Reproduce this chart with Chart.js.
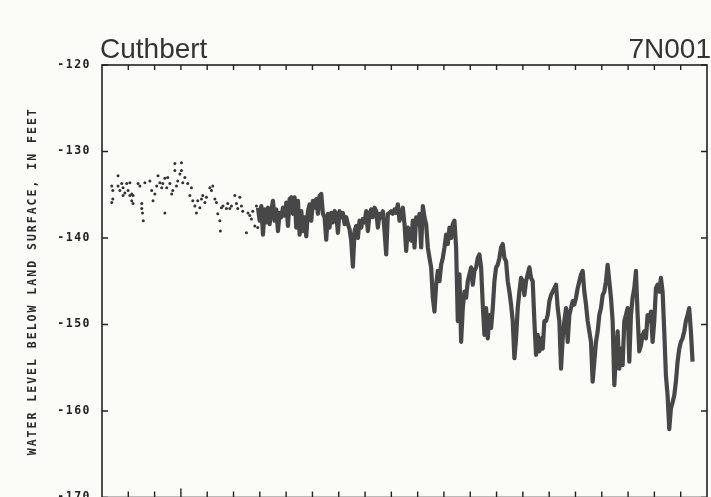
<!DOCTYPE html>
<html>
<head>
<meta charset="utf-8">
<script src="https://cdn.jsdelivr.net/npm/chart.js@4.4.0/dist/chart.umd.min.js"></script>
<style>
  html, body { margin: 0; padding: 0; background: #fbfbf8; overflow: hidden; }
  #wrap { width: 711px; height: 510px; }
</style>
</head>
<body>
<div id="wrap"><canvas id="hydro" width="711" height="510"></canvas></div>
<script>
// WELL INFO //
var siteName = "Cuthbert";
var wellId = "7N001";
var yTitle = "WATER LEVEL BELOW LAND SURFACE, IN FEET";

// AXES //
var yearMin = 1967;
var yearMax = 1990;
var levelTicks = [-120, -130, -140, -150, -160, -170];

// EARLY PERIODIC MEASUREMENTS (dots) //
var dotYears = [1967.37,1967.41,1967.37,1967.41,1967.61,1967.61,1967.68,1967.75,1967.80,1967.87,
  1967.80,1967.94,1967.99,1968.06,1968.13,1968.18,1968.13,1968.18,1968.06,1968.37,
  1968.44,1968.51,1968.51,1968.54,1968.57,1968.63,1968.82,1968.89,1968.94,1969.01,
  1969.08,1969.13,1969.20,1969.27,1969.31,1969.39,1969.39,1969.46,1969.50,1969.58,
  1969.65,1969.69,1969.77,1969.77,1969.83,1969.88,1969.96,1970.02,1970.02,1970.07,
  1970.15,1970.26,1970.34,1970.40,1970.45,1970.53,1970.59,1970.64,1970.72,1970.78,
  1970.83,1970.91,1970.97,1971.10,1971.16,1971.21,1971.29,1971.35,1971.40,1971.48,
  1971.50,1971.54,1971.60,1971.73,1971.78,1971.86,1971.92,1972.05,1972.11,1972.16,
  1972.24,1972.30,1972.35,1972.49,1972.55,1972.62,1972.68,1972.73,1972.81,1972.87,
  1972.92];
var dotLevels = [-134.0,-134.5,-135.9,-135.5,-132.8,-134.0,-134.5,-133.7,-134.2,-134.8,
  -135.1,-133.7,-134.5,-133.6,-134.9,-135.1,-135.7,-136.0,-135.1,-133.7,
  -134.0,-136.0,-136.6,-137.1,-138.0,-133.6,-133.4,-134.5,-135.7,-134.9,
  -134.0,-132.8,-133.6,-134.2,-133.7,-133.1,-137.1,-134.2,-133.0,-133.7,
  -134.9,-134.5,-132.2,-131.4,-134.0,-133.4,-132.6,-131.3,-132.2,-133.6,
  -133.0,-133.7,-135.1,-134.2,-135.7,-136.3,-137.1,-135.7,-136.5,-135.5,
  -135.1,-135.9,-135.3,-134.2,-134.5,-134.0,-135.5,-135.9,-137.2,-138.0,
  -139.2,-136.5,-136.3,-136.6,-136.0,-136.6,-136.3,-135.1,-136.0,-136.6,
  -135.3,-136.3,-136.9,-139.4,-137.1,-137.4,-137.8,-136.9,-138.6,-136.3,
  -138.8];

// CONTINUOUS RECORDER (readings at a fixed interval) //
var recStart = 1972.93;
var recStep = 0.0633;
var recLevels = [
  -136.5,-138.0,-136.3,-139.6,-136.7,-138.2,-136.5,-138.4,-136.9,-135.7,
  -138.0,-136.7,-139.2,-137.1,-137.6,-136.5,-137.4,-135.9,-138.6,-135.5,
  -135.3,-137.2,-135.3,-138.8,-135.7,-139.6,-136.9,-139.2,-137.6,-139.8,
  -136.9,-136.1,-138.0,-135.7,-136.5,-135.5,-137.2,-135.1,-134.9,-137.2,
  -137.6,-140.2,-137.2,-138.8,-137.1,-138.2,-136.9,-137.2,-139.4,-136.9,
  -137.6,-137.1,-138.4,-137.6,-138.4,-139.0,-140.3,-143.3,-139.2,-138.6,
  -140.0,-138.0,-138.8,-137.8,-138.2,-136.9,-139.2,-137.2,-136.7,-137.6,
  -136.5,-136.9,-138.8,
  -137.2,-137.6,-136.9,-139.2,-141.9,-137.2,-137.1,-136.9,-137.2,-136.7,
  -137.1,-136.1,-138.0,-137.2,-136.5,-138.4,-141.5,-138.8,-139.2,-140.3,
  -138.0,-141.1,-137.6,-138.4,-137.2,-141.1,-136.3,-137.6,-138.4,-141.1,
  -142.3,-143.4,-146.9,-148.5,-145.4,-143.8,-145.0,-143.1,-142.3,-141.1,
  -139.6,-140.7,-138.8,-140.0,-138.4,-138.0,-141.1,-149.6,-144.2,-152.0,
  -148.1,-146.2,-146.9,-145.0,-144.2,-143.4,-145.4,-143.8,-143.4,-142.3,
  -141.9,-143.4,-147.7,-151.2,-148.1,-151.6,-148.9,-150.4,-148.1,-145.0,
  -143.4,-143.1,-142.3,-141.1,-140.7,-142.3,-142.7,-145.0,-146.2,-147.7,
  -149.6,-153.9,-151.6,-148.1,-146.2,-144.6,-145.0,-146.6,-145.0,-144.2,
  -143.4,-144.6,-145.0,-149.6,-153.5,-151.2,-153.1,-151.6,-152.8,-149.6,
  -149.6,-148.9,-147.3,-146.6,-146.2,-145.8,-145.4,-148.1,-149.6,-155.1,
  -151.6,-149.6,-148.1,-152.0,-148.9,-148.1,-147.3,-147.7,-146.9,-145.8,
  -145.0,-144.2,-143.8,-146.2,-147.7,-149.6,-150.8,-152.0,-156.6,-154.3,
  -152.0,-150.8,-148.9,-148.1,-146.6,-146.2,-145.0,-143.1,-145.0,-146.9,
  -149.6,-157.0,-153.5,-150.8,-155.1,-152.8,-154.7,-149.6,-148.9,-148.1,
  -154.3,-148.9,-146.9,-145.8,-143.8,-148.9,-153.1,-152.4,-151.2,-150.8,
  -151.6,-148.9,-149.6,-148.5,-152.0,-149.6,-145.8,-145.4,-146.2,-144.6,
  -146.2,-150.8,-155.9,-158.2,-162.1,-159.7,-159.0,-158.2,-156.6,-154.3,
  -152.8,-152.0,-151.6,-150.8,-149.6,-148.9,-148.1,-150.8,-154.3];

var dotPoints = dotYears.map(function (yr, i) { return {x: yr, y: dotLevels[i]}; });
var recPoints = recLevels.map(function (lv, i) { return {x: recStart + i * recStep, y: lv}; });

var plotFont = "'DejaVu Sans Mono', 'Liberation Mono', monospace";

// FRAME, INSIDE TICKS AND TITLES //
var framePlugin = {
  id: 'frame',
  beforeDraw: function (chart) {
    chart.ctx.letterSpacing = '1.5px';
  },
  afterDraw: function (chart) {
    var ctx = chart.ctx;
    var a = chart.chartArea;
    var xs = chart.scales.x;
    var ys = chart.scales.y;
    ctx.save();
    ctx.strokeStyle = '#222';
    ctx.lineWidth = 1.6;
    ctx.strokeRect(a.left, a.top, a.right - a.left, a.bottom - a.top);
    ctx.lineWidth = 1.4;
    ctx.beginPath();
    for (var yr = yearMin + 1; yr < yearMax; yr++) {
      var px = xs.getPixelForValue(yr);
      ctx.moveTo(px, a.top);
      ctx.lineTo(px, a.top + 5);
      ctx.moveTo(px, a.bottom);
      ctx.lineTo(px, a.bottom - (yr === 1970 ? 9 : 6));
    }
    levelTicks.forEach(function (v) {
      var py = ys.getPixelForValue(v);
      ctx.moveTo(a.left, py);
      ctx.lineTo(a.left + 6, py);
      ctx.moveTo(a.right, py);
      ctx.lineTo(a.right - 6, py);
    });
    ctx.stroke();

    // site name and well number
    ctx.letterSpacing = '0px';
    ctx.fillStyle = '#333';
    ctx.font = "28px 'Liberation Sans', Arial, sans-serif";
    ctx.textBaseline = 'alphabetic';
    ctx.textAlign = 'left';
    ctx.fillText(siteName, 100, 58);
    ctx.textAlign = 'right';
    ctx.fillText(wellId, 711, 58);

    // y axis title
    ctx.letterSpacing = '2px';
    ctx.font = "bold 11.5px " + plotFont;
    ctx.fillStyle = '#2a2a2a';
    ctx.translate(33, (a.top + a.bottom) / 2);
    ctx.rotate(-Math.PI / 2);
    ctx.textAlign = 'center';
    ctx.textBaseline = 'middle';
    ctx.fillText(yTitle, 0, 0);
    ctx.restore();
  }
};

var hydroChart = new Chart(document.getElementById("hydro"), {
  type: 'scatter',
  data: {
    datasets: [{
      label: 'Periodic',
      data: dotPoints,
      showLine: false,
      pointRadius: 1.5,
      pointBorderWidth: 0,
      pointBackgroundColor: '#333'
    }, {
      label: 'Recorder',
      data: recPoints,
      showLine: true,
      pointRadius: 0,
      borderWidth: 4.2,
      borderColor: '#474747',
      borderJoinStyle: 'round',
      tension: 0
    }]
  },
  plugins: [framePlugin],
  options: {
    responsive: false,
    animation: false,
    events: [],
    layout: { padding: { left: 0, top: 65, right: 3.5, bottom: 12.5 } },
    plugins: { legend: { display: false }, tooltip: { enabled: false }, title: { display: false } },
    scales: {
      x: {
        type: 'linear',
        display: false,
        min: yearMin,
        max: yearMax
      },
      y: {
        type: 'linear',
        min: -170,
        max: -120,
        afterFit: function (scale) { scale.width = 102; },
        afterBuildTicks: function (scale) {
          scale.ticks = levelTicks.map(function (v) { return {value: v}; });
        },
        grid: { display: false },
        border: { display: false },
        ticks: {
          padding: 3,
          color: '#222',
          font: { family: plotFont, size: 11.5, weight: 'bold' },
          callback: function (v) { return String(v); }
        }
      }
    }
  }
});
</script>
</body>
</html>
